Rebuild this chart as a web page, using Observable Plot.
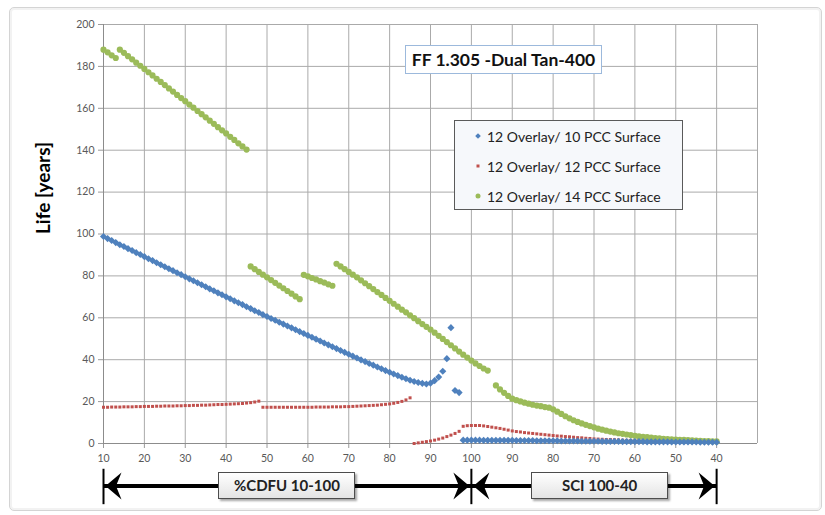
<!DOCTYPE html>
<html>
<head>
<meta charset="utf-8">
<script src="https://cdn.jsdelivr.net/npm/d3@7"></script>
<script src="https://cdn.jsdelivr.net/npm/@observablehq/plot@0.6"></script>
<style>
  body { margin: 0; background: #fff; }
  #wrap { position: relative; width: 825px; height: 515px; overflow: hidden; font-family: Lato, "Open Sans", sans-serif; }
  #frame { position: absolute; left: 9px; top: 7px; width: 811px; height: 502px; border: 1px solid #d4d4d4; border-radius: 5px; box-shadow: inset 0 0 0 2px #f2f2f2; }
  #wrap svg { position: absolute; left: 0; top: 0; }
  .title { position: absolute; left: 405px; top: 45px; width: 195px; height: 27px; border: 1px solid #9cb9dc; background: #fff; font-weight: bold; font-size: 17.5px; color: #111; line-height: 27px; text-align: center; white-space: nowrap; }
  .legend { position: absolute; left: 454px; top: 120px; width: 227px; height: 88px; border: 1px solid #5a5a5a; background: #f6f8fb; }
  .legend .row { position: absolute; left: 0; height: 20px; line-height: 20px; font-size: 14px; color: #222; white-space: nowrap; }
  .legend .mk { position: absolute; left: 23px; top: 9px; }
  .legend .tx { position: absolute; left: 32px; top: 0; }
  .rangebox { position: absolute; height: 25px; border: 1.5px solid #4d4d4d; background: linear-gradient(#ffffff, #e4e4e4); box-shadow: 2px 2px 2px rgba(0,0,0,0.35); font-weight: bold; font-size: 15px; color: #222; line-height: 25px; text-align: center; white-space: nowrap; }
</style>
</head>
<body>
<div id="wrap"><div id="frame"></div></div>
<script>
// ---------- axis / tick data ----------
const xTickValues = [10, 20, 30, 40, 50, 60, 70, 80, 90, 100, 110, 120, 130, 140, 150, 160];
const xTickLabels = ["10", "20", "30", "40", "50", "60", "70", "80", "90", "100", "90", "80", "70", "60", "50", "40"];
const xGridValues = [10, 20, 30, 40, 50, 60, 70, 80, 90, 100, 110, 120, 130, 140, 150, 160, 170];
const yTickValues = [0, 20, 40, 60, 80, 100, 120, 140, 160, 180, 200];

const titleText = "FF 1.305 -Dual Tan-400";
const yAxisTitle = "Life [years]";
const seriesNames = ["12 Overlay/ 10 PCC Surface", "12 Overlay/ 12 PCC Surface", "12 Overlay/ 14 PCC Surface"];
const seriesColors = ["#4f81bd", "#c0504d", "#9bbb59"];

// ranges shown by the double arrows under the axis (axis positions)
const rangeLabels = ["%CDFU 10-100", "SCI 100-40"];
const rangeFrom = [10, 100];
const rangeTo = [100, 160];
const rangeLabelAt = [55, 131.5];

// ---------- series values (one point per axis unit, starting at "start") ----------
const blueSegments = [
  { start: 10, values: [
    98.8, 97.8, 96.9, 95.9, 94.9, 94.0, 93.0, 92.1, 91.1, 90.2, 89.2,
    88.2, 87.3, 86.3, 85.3, 84.4, 83.4, 82.5, 81.5, 80.6, 79.6,
    78.6, 77.7, 76.7, 75.8, 74.8, 73.8, 72.9, 71.9, 71.0, 70.0,
    69.1, 68.1, 67.2, 66.3, 65.3, 64.4, 63.4, 62.5, 61.5, 60.6,
    59.7, 58.8, 57.9, 57.0, 56.1, 55.2, 54.3, 53.4, 52.5, 51.6,
    50.7, 49.8, 48.9, 48.0, 47.1, 46.2, 45.3, 44.4, 43.5, 42.6,
    41.7, 40.8, 39.9, 39.1, 38.2, 37.4, 36.5, 35.7, 34.8, 34.0,
    33.2, 32.4, 31.6, 30.9, 30.2, 29.6, 29.1, 28.7, 28.4,
    28.8, 30.0, 31.7, 34.5, 40.5, 55.3, 25.3, 24.3] },
  { start: 98, values: [
    1.6, 1.6, 1.6, 1.6, 1.6, 1.5, 1.5, 1.5, 1.5, 1.5, 1.5, 1.5, 1.5,
    1.4, 1.4, 1.4, 1.4, 1.4, 1.3, 1.3, 1.3, 1.3, 1.3,
    1.3, 1.2, 1.2, 1.2, 1.2, 1.2, 1.1, 1.1, 1.1, 1.1,
    1.1, 1.0, 1.0, 1.0, 1.0, 1.0, 0.9, 0.9, 0.9, 0.9,
    0.9, 0.9, 0.8, 0.8, 0.8, 0.8, 0.8, 0.8, 0.7, 0.7,
    0.7, 0.7, 0.7, 0.7, 0.7, 0.6, 0.6, 0.6, 0.6, 0.6] }
];

const redSegments = [
  { start: 10, values: [
    17.3, 17.3, 17.4, 17.4, 17.4, 17.5, 17.5, 17.5, 17.6, 17.6,
    17.7, 17.7, 17.7, 17.8, 17.8, 17.9, 17.9, 17.9, 18.0, 18.0,
    18.1, 18.1, 18.2, 18.2, 18.3, 18.3, 18.4, 18.5, 18.6, 18.6,
    18.7, 18.8, 18.9, 19.0, 19.1, 19.3, 19.5, 19.8, 20.2] },
  { start: 49, values: [
    17.3, 17.3, 17.3, 17.3, 17.3, 17.3, 17.3, 17.3, 17.3, 17.3,
    17.3, 17.3, 17.3, 17.4, 17.4, 17.4, 17.4, 17.5, 17.5, 17.5,
    17.6, 17.6, 17.7, 17.8, 17.9, 18.0, 18.1, 18.2, 18.3, 18.5,
    18.7, 18.9, 19.2, 19.6, 20.1, 20.8, 21.8] },
  { start: 86, values: [
    0.0, 0.3, 0.6, 0.9, 1.2, 1.6, 2.1, 2.6, 3.3, 4.0, 4.8, 5.8,
    8.2, 8.5, 8.6, 8.6, 8.6, 8.4, 8.1, 7.8, 7.5, 7.2, 6.8, 6.4, 6.0,
    5.7, 5.5, 5.2, 5.0, 4.8, 4.6, 4.4, 4.2, 4.0, 3.8,
    3.6, 3.5, 3.3, 3.2, 3.0, 2.8, 2.7, 2.5, 2.4, 2.2,
    2.1, 2.0, 1.9, 1.9, 1.8, 1.7, 1.6, 1.5, 1.5, 1.4,
    1.35, 1.3, 1.25, 1.2, 1.15, 1.1, 1.1, 1.05, 1.0, 1.0,
    0.95, 0.9, 0.9, 0.85, 0.8, 0.8, 0.75, 0.7, 0.7, 0.6] }
];

const greenSegments = [
  { start: 10, values: [188.0, 186.7, 185.3, 184.0] },
  { start: 14, values: [
    188.0, 186.5, 184.9, 183.4, 181.8, 180.3, 178.8, 177.2, 175.7, 174.1, 172.6,
    171.1, 169.5, 168.0, 166.4, 164.9, 163.4, 161.8, 160.3, 158.7, 157.2,
    155.7, 154.1, 152.6, 151.0, 149.5, 148.0, 146.4, 144.9, 143.3, 141.8, 140.3] },
  { start: 46, values: [84.5, 83.2, 81.9, 80.6, 79.3, 78.0, 76.7, 75.4, 74.1, 72.8, 71.5, 70.2, 68.9] },
  { start: 59, values: [80.5, 79.8, 79.0, 78.3, 77.5, 76.8, 76.0, 75.3] },
  { start: 67, values: [
    85.8, 84.5, 83.2, 81.9, 80.6, 79.3, 77.9, 76.5, 75.1, 73.7, 72.3, 70.9, 69.5, 68.1,
    66.7, 65.3, 63.9, 62.6, 61.2, 59.8, 58.4, 57.0, 55.7, 54.4,
    52.9, 51.4, 49.9, 48.4, 46.9, 45.4, 43.9, 42.4, 41.0, 39.6,
    38.2, 37.0, 35.8, 34.8] },
  { start: 106, values: [
    27.7, 25.8, 24.2, 22.7, 21.4,
    20.7, 20.1, 19.5, 19.0, 18.5, 18.1, 17.8, 17.4, 17.1, 16.3,
    15.2, 14.1, 13.0, 12.0, 11.1, 10.3, 9.6, 8.9, 8.3, 7.7,
    7.1, 6.6, 6.1, 5.7, 5.3, 4.9, 4.6, 4.3, 4.0, 3.7,
    3.4, 3.2, 3.0, 2.8, 2.6, 2.4, 2.2, 2.1, 2.0, 1.9,
    1.8, 1.7, 1.6, 1.5, 1.4, 1.3, 1.2, 1.1, 1.05, 1.0] }
];

// ---------- build tables ----------
function toRows(segments) {
  const rows = [];
  for (const s of segments) s.values.forEach((v, i) => rows.push({ x: s.start + i, y: v }));
  return rows;
}
const blueRows = toRows(blueSegments);
const redRows = toRows(redSegments);
const greenRows = toRows(greenSegments);
const ranges = rangeLabels.map((label, i) => ({ label, from: rangeFrom[i], to: rangeTo[i], at: rangeLabelAt[i] }));
const rangeEnds = Array.from(new Set([...rangeFrom, ...rangeTo]));

const arrowRow = -20.3, barTop = -12.3, barBottom = -29.2;

const dartLeft = { draw(c) { c.moveTo(0, 0); c.lineTo(16, -13.5); c.lineTo(10.5, 0); c.lineTo(16, 13.5); c.closePath(); } };
const dartRight = { draw(c) { c.moveTo(0, 0); c.lineTo(-16, -13.5); c.lineTo(-10.5, 0); c.lineTo(-16, 13.5); c.closePath(); } };

const fmtX = d => xTickLabels[xTickValues.indexOf(d)];

const chart = Plot.plot({
  width: 825,
  height: 515,
  marginLeft: 103,
  marginRight: 68,
  marginTop: 24,
  marginBottom: 72,
  style: { fontFamily: "Lato, 'Open Sans', sans-serif", fontSize: "10.5px", background: "transparent", overflow: "visible" },
  x: { domain: [10, 170] },
  y: { domain: [0, 200] },
  marks: [
    Plot.gridX(xGridValues, { stroke: "#aaaaaa", strokeOpacity: 1 }),
    Plot.gridY(yTickValues, { stroke: "#aaaaaa", strokeOpacity: 1 }),
    Plot.axisX({ ticks: xTickValues, tickFormat: fmtX, tickSize: 5, tickPadding: 6, stroke: "#9a9a9a", fill: "#595959", label: null }),
    Plot.axisY({ ticks: yTickValues, tickSize: 5, tickPadding: 4, stroke: "#9a9a9a", fill: "#595959", label: null }),
    Plot.ruleY([0], { stroke: "#8c8c8c" }),
    Plot.ruleX([10], { stroke: "#8c8c8c" }),
    Plot.text([yAxisTitle], { text: d => d, frameAnchor: "left", dx: -60, rotate: -90, fontSize: 19, fontWeight: "bold", fill: "#000" }),
    Plot.dot(redRows, { x: "x", y: "y", symbol: "square", r: 1.7, fill: seriesColors[1], stroke: "none" }),
    Plot.dot(greenRows, { x: "x", y: "y", symbol: "circle", r: 3.1, fill: seriesColors[2], stroke: "none" }),
    Plot.dot(blueRows, { x: "x", y: "y", symbol: "diamond2", r: 3.2, fill: seriesColors[0], stroke: "none" }),
    // range arrows under the axis
    Plot.link(ranges, { x1: "from", x2: "to", y1: () => arrowRow, y2: () => arrowRow, stroke: "#000", strokeWidth: 4 }),
    Plot.ruleX(rangeEnds, { y1: () => barTop, y2: () => barBottom, stroke: "#000", strokeWidth: 2 }),
    Plot.dot(ranges, { x: "from", y: () => arrowRow, symbol: dartLeft, fill: "#000", stroke: "none", dx: 2 }),
    Plot.dot(ranges, { x: "to", y: () => arrowRow, symbol: dartRight, fill: "#000", stroke: "none", dx: -2 })
  ]
});

const wrap = document.getElementById("wrap");
wrap.appendChild(chart);

// title box
const t = document.createElement("div");
t.className = "title";
t.textContent = titleText;
wrap.appendChild(t);

// legend
const lg = document.createElement("div");
lg.className = "legend";
const markerCss = [
  "width:4px;height:4px;transform:translate(-2px,-2px) rotate(45deg);",
  "width:3px;height:3px;transform:translate(-1.5px,-1.5px);",
  "width:5px;height:5px;border-radius:50%;transform:translate(-2.5px,-2.5px);"
];
seriesNames.forEach((name, i) => {
  const row = document.createElement("div");
  row.className = "row";
  row.style.top = (6 + i * 30) + "px";
  const mk = document.createElement("span");
  mk.className = "mk";
  mk.style.cssText += markerCss[i] + "background:" + seriesColors[i] + ";";
  const tx = document.createElement("span");
  tx.className = "tx";
  tx.textContent = name;
  row.appendChild(mk);
  row.appendChild(tx);
  lg.appendChild(row);
});
wrap.appendChild(lg);

// range label boxes, positioned through the chart scales
const sx = chart.scale("x"), sy = chart.scale("y");
ranges.forEach(r => {
  const b = document.createElement("div");
  b.className = "rangebox";
  const w = 135;
  b.style.width = w + "px";
  b.style.left = (sx.apply(r.at) - w / 2 - 1) + "px";
  b.style.top = (sy.apply(arrowRow) - 14) + "px";
  b.textContent = r.label;
  wrap.appendChild(b);
});
</script>
</body>
</html>
